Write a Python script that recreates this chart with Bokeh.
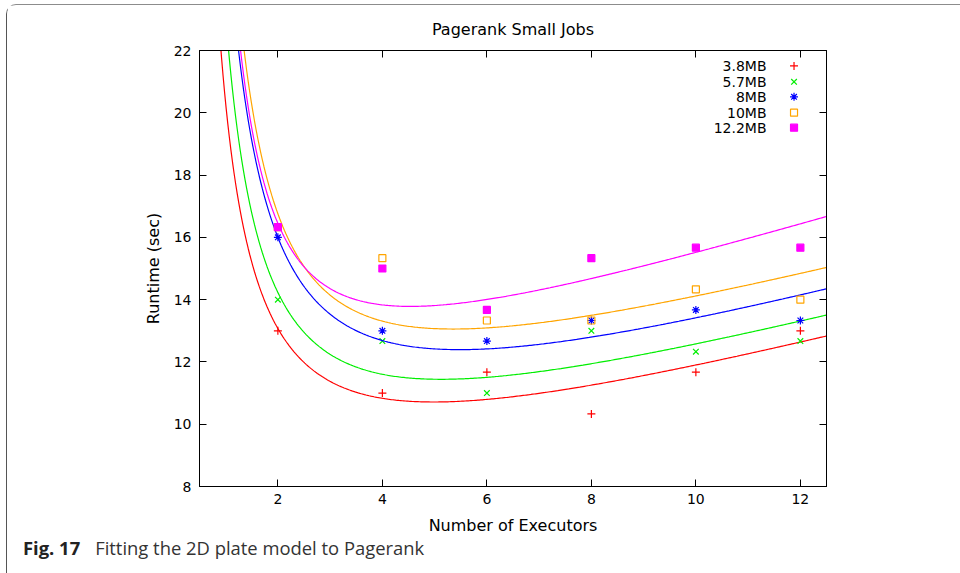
import numpy as np
from bokeh.plotting import figure
from bokeh.layouts import column
from bokeh.models import Label, LinearAxis, FixedTicker, Range1d, CustomJSTickFormatter, Div
from bokeh.embed import file_html
from bokeh.resources import INLINE

# ---- data ----
executors = [2, 4, 6, 8, 10, 12]
sizes = ["3.8MB", "5.7MB", "8MB", "10MB", "12.2MB"]
runtime_3_8 = [13.0, 11.0, 11.67, 10.33, 11.67, 13.0]
runtime_5_7 = [14.0, 12.67, 11.0, 13.0, 12.33, 12.67]
runtime_8 = [16.0, 13.0, 12.67, 13.33, 13.67, 13.33]
runtime_10 = [16.33, 15.33, 13.33, 13.33, 14.33, 14.0]
runtime_12_2 = [16.33, 15.0, 13.67, 15.33, 15.67, 15.67]
x_ticks = [2, 4, 6, 8, 10, 12]
y_ticks = [8, 10, 12, 14, 16, 18, 20, 22]

# fitted model T(n) = a/n^2 + b/n + c + d*n, coefficients estimated from the drawn curves
fit_3_8 = [3.7069, 9.8345, 6.3159, 0.4565]
fit_5_7 = [6.0651, 9.5968, 7.0040, 0.4556]
fit_8 = [7.2686, 11.6135, 7.4271, 0.4756]
fit_10 = [11.8566, 8.5040, 8.6398, 0.4510]
fit_12_2 = [12.7053, 5.0955, 9.6851, 0.5197]

title_text = "Pagerank Small Jobs"
x_label = "Number of Executors"
y_label = "Runtime (sec)"
caption_bold = "Fig. 17"
caption_text = "Fitting the 2D plate model to Pagerank"

X0, X1, Y0, Y1 = 0.5, 12.5, 8, 22
FW, FH = 952, 537
p = figure(width=FW, height=FH, x_range=Range1d(X0, X1), y_range=Range1d(Y0, Y1),
           output_backend="svg", toolbar_location=None,
           min_border_left=192, min_border_right=133, min_border_top=43, min_border_bottom=56)
p.xgrid.visible = False
p.ygrid.visible = False
p.outline_line_color = "black"
p.background_fill_color = "white"
p.border_fill_color = "white"

FONT = "DejaVu Sans"
p.title.text = title_text
p.title.align = "center"
p.title.text_font = FONT
p.title.text_font_size = "16px"
p.title.text_font_style = "normal"
p.title.text_color = "black"
p.title.standoff = 24

for ax in [p.xaxis[0], p.yaxis[0]]:
    ax.major_tick_in = 7
    ax.major_tick_out = 0
    ax.minor_tick_line_color = None
    ax.axis_line_color = "black"
    ax.major_tick_line_color = "black"
    ax.major_label_text_font = FONT
    ax.major_label_text_font_size = "14px"
    ax.major_label_text_color = "black"
    ax.axis_label_text_font = FONT
    ax.axis_label_text_font_size = "16px"
    ax.axis_label_text_font_style = "normal"
    ax.axis_label_text_color = "black"
p.xaxis.ticker = FixedTicker(ticks=x_ticks)
p.yaxis.ticker = FixedTicker(ticks=y_ticks)
p.xaxis.axis_label = x_label
p.yaxis.axis_label = y_label
p.xaxis.major_label_standoff = 7
p.yaxis.major_label_standoff = 8
p.xaxis.axis_label_standoff = 9
p.yaxis.axis_label_standoff = 8

blank = CustomJSTickFormatter(code="return ''")
for loc, tk in [("right", y_ticks), ("above", x_ticks)]:
    ax = LinearAxis(ticker=FixedTicker(ticks=tk), formatter=blank, major_tick_in=7, major_tick_out=0,
                    minor_tick_line_color=None, axis_line_color="black", major_label_text_font_size="1px",
                    major_label_standoff=0)
    p.add_layout(ax, loc)

colors = ["#ff0000", "#00ee00", "#0000ff", "#ffa500", "#ff00ff"]
series = [runtime_3_8, runtime_5_7, runtime_8, runtime_10, runtime_12_2]
fits = [fit_3_8, fit_5_7, fit_8, fit_10, fit_12_2]
markers = ["cross", "x", "asterisk", "square", "square"]
filled = [False, False, False, False, True]
msize = [8, 8, 8, 7, 7]

xc = np.linspace(X0, X1, 400)
for ys, c, col, mk, ms, fl in zip(series, fits, colors, markers, msize, filled):
    yc = c[0] / xc**2 + c[1] / xc + c[2] + c[3] * xc
    p.line(xc, yc, line_color=col, line_width=1.2)
    p.scatter(executors, ys, marker=mk, size=ms, line_color=col,
              fill_color=col if fl else None, line_width=1.2)

# legend, gnuplot style (text right-aligned, symbol to its right); page pixel -> data helpers
def xd(px):
    return X0 + (px - 199.5) * (X1 - X0) / (827 - 199.5)
def yd(py):
    return Y1 - (py - 48.5) * (Y1 - Y0) / (486.5 - 48.5)

rows = [64, 80, 95, 111, 126]
for lab, col, mk, ms, fl, ry in zip(sizes, colors, markers, msize, filled, rows):
    p.add_layout(Label(x=xd(767), y=yd(ry), text=lab, text_align="right", text_baseline="middle",
                       text_font=FONT, text_font_size="14px", text_color="black"))
    p.scatter([xd(794.5)], [yd(ry)], marker=mk, size=ms, line_color=col,
              fill_color=col if fl else None, line_width=1.2)

cap = Div(width=FW, height=30,
          text=('<div style="position:relative; top:-9px; left:11px; white-space:nowrap; '
                'font-family:\'Open Sans\'; font-size:18.4px; line-height:20px; color:#333333;">'
                '<b style="color:#222222;">' + caption_bold + '</b>'
                '<span style="margin-left:15px;">' + caption_text + '</span></div>'))

page = column(p, cap, spacing=0,
              styles={"margin-left": "6px", "margin-top": "4px",
                      "border-left": "1.5px solid #555555", "border-top": "1.5px solid #8c8c8c",
                      "border-top-left-radius": "10px", "border-bottom-left-radius": "10px"})

open("out.html", "w").write(file_html(page, INLINE))
